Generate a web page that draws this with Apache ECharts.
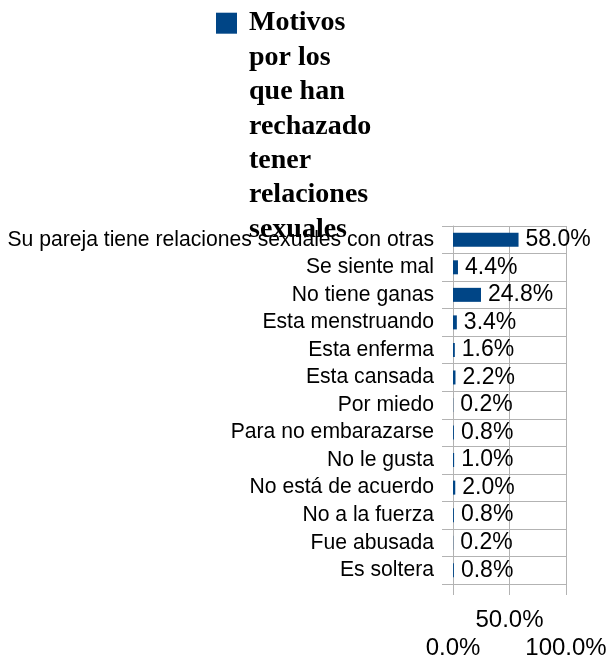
<!DOCTYPE html>
<html>
<head>
<meta charset="utf-8">
<script src="https://cdn.jsdelivr.net/npm/echarts@6/dist/echarts.min.js"></script>
<style>
  html, body { margin: 0; padding: 0; background: #fff; }
  #chart { width: 611px; height: 661px; }
</style>
</head>
<body>
<div id="chart"></div>
<script>
// datos del gráfico
const categories = [
  'Su pareja tiene relaciones sexuales con otras',
  'Se siente mal',
  'No tiene ganas',
  'Esta menstruando',
  'Esta enferma',
  'Esta cansada',
  'Por miedo',
  'Para no embarazarse',
  'No le gusta',
  'No está de acuerdo',
  'No a la fuerza',
  'Fue abusada',
  'Es soltera'
]
const values = [58.0, 4.4, 24.8, 3.4, 1.6, 2.2, 0.2, 0.8, 1.0, 2.0, 0.8, 0.2, 0.8]
const seriesName = 'Motivos por los que han rechazado tener relaciones sexuales'
const legendLines = ['Motivos', 'por los', 'que han', 'rechazado', 'tener', 'relaciones', 'sexuales']
const xTicks = [0, 50, 100]
const xTicksUpper = [50] // etiquetas de la fila superior (escalonadas)

const gridColor = '#b3b3b3'
const sans = '"Liberation Sans", Arial, sans-serif'
const serif = '"Liberation Serif", "Times New Roman", serif'
const legendLineHeight = 34.4

const chart = echarts.init(document.getElementById('chart'))

// el texto de la leyenda se centra en el icono: se anteponen líneas vacías
// para que la primera línea quede a la altura del cuadrado
const legendText = '\n'.repeat(legendLines.length - 1) +
  legendLines.map((l) => `{t|${l}}`).join('\n')

const pct = (v) => v.toFixed(1) + '%'

const axisLabelBase = {
  fontFamily: sans,
  fontSize: 24,
  lineHeight: 28,
  color: '#000',
  showMinLabel: true,
  showMaxLabel: true
}

const option = {
  animation: false,
  legend: {
    left: 211,
    top: 1 - legendLineHeight * (legendLines.length - 1),
    itemWidth: 21,
    itemHeight: 21,
    icon: 'rect',
    data: [seriesName],
    formatter: () => legendText,
    textStyle: {
      fontFamily: serif,
      fontWeight: 'bold',
      fontSize: 28,
      lineHeight: legendLineHeight,
      color: '#000',
      rich: {
        t: {
          fontFamily: serif,
          fontWeight: 'bold',
          fontSize: 28,
          lineHeight: legendLineHeight,
          color: '#000',
          padding: [0, 0, 0, 7]
        }
      }
    }
  },
  grid: {
    left: 453,
    right: 45,
    top: 226,
    bottom: 77,
    outerBoundsMode: 'none'
  },
  xAxis: [
    {
      type: 'value',
      min: xTicks[0],
      max: xTicks[xTicks.length - 1],
      interval: 50,
      axisLine: { show: true, lineStyle: { color: gridColor } },
      axisTick: { show: true, length: 11, lineStyle: { color: gridColor } },
      splitLine: { show: true, lineStyle: { color: gridColor } },
      axisLabel: {
        ...axisLabelBase,
        margin: 50,
        formatter: (v) => (xTicksUpper.includes(v) ? '' : pct(v))
      }
    },
    {
      // solo para la fila superior de etiquetas
      type: 'value',
      position: 'bottom',
      min: xTicks[0],
      max: xTicks[xTicks.length - 1],
      interval: 50,
      axisLine: { show: false },
      axisTick: { show: false },
      splitLine: { show: false },
      axisLabel: {
        ...axisLabelBase,
        margin: 22,
        formatter: (v) => (xTicksUpper.includes(v) ? pct(v) : '')
      }
    }
  ],
  yAxis: {
    type: 'category',
    inverse: true,
    data: categories,
    axisLine: { show: true, lineStyle: { color: gridColor } },
    axisTick: { show: true, length: 11, interval: 0, lineStyle: { color: gridColor } },
    splitLine: { show: true, interval: 0, lineStyle: { color: gridColor } },
    axisLabel: {
      margin: 19,
      interval: 0,
      fontFamily: sans,
      fontSize: 21.15,
      color: '#000'
    }
  },
  series: [
    {
      name: seriesName,
      type: 'bar',
      data: values,
      barWidth: 14,
      itemStyle: { color: '#004586' },
      label: {
        show: true,
        position: 'right',
        distance: 7,
        fontFamily: sans,
        fontSize: 23,
        color: '#000',
        formatter: (p) => pct(p.value)
      }
    }
  ]
}

chart.setOption(option)
window.addEventListener('resize', () => chart.resize())
</script>
</body>
</html>
